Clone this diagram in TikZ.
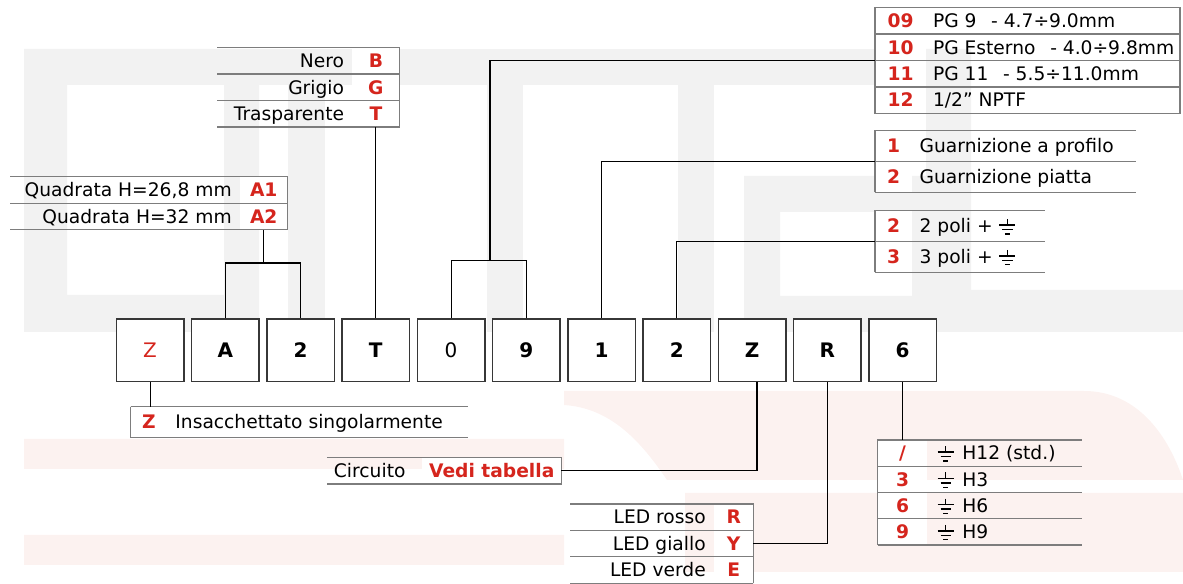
\documentclass[tikz,border=0pt]{standalone}
\usepackage{fontspec}
\setmainfont{DejaVu Sans}
\usetikzlibrary{positioning}

\definecolor{ditelred}{RGB}{213,37,29}
\definecolor{linegray}{RGB}{125,125,125}
\definecolor{boxgray}{RGB}{55,55,55}
\definecolor{markgray}{RGB}{242,242,242}
\definecolor{markpink}{RGB}{252,242,240}

\newcommand{\earth}{\tikz[baseline=0pt,x=1pt,y=1pt,line width=1.05pt]{\draw (0,10.4)--(0,5.8) (-6,5.8)--(6,5.8) (-3.9,2.5)--(3.9,2.5) (-1.9,-0.8)--(1.9,-0.8);}}

\begin{document}
\begin{tikzpicture}[x=0.75pt,y=-0.75pt,
    codebox/.style={draw=boxgray,fill=white,line width=1.1pt,minimum width=50.6pt,
      minimum height=46.8pt,inner sep=0pt,anchor=north west,
      font=\fontsize{15}{18}\selectfont\bfseries},
    keycell/.style={fill=white,inner sep=0pt,outer sep=0pt,anchor=north west,
      text=ditelred,text height=10.2pt,text depth=0pt,
      font=\fontsize{14}{16}\selectfont\bfseries},
    txt/.style={inner sep=0pt,text height=10.2pt,text depth=0pt,
      font=\fontsize{14}{16}\selectfont},
    tabline/.style={draw=linegray,line width=1pt},
    leader/.style={draw=black,line width=0.85pt}]
  \useasboundingbox (0,0) rectangle (1183,584);

  % watermark
  \fill[markgray,even odd rule] (24,49) rectangle (259,332) (67,85) rectangle (224,295);
  \fill[markgray] (259,49) rectangle (926,85);
  \fill[markgray] (288,85) rectangle (325,332);
  \fill[markgray] (487,85) rectangle (523,332);
  \fill[markgray] (678,85) rectangle (714,332);
  \fill[markgray,even odd rule] (744,176) rectangle (926,332) (780,212) rectangle (912,296);
  \fill[markgray] (926,49) rectangle (971,332) (971,290) rectangle (1183,332);
  \fill[markpink] (24,439) rectangle (564,469) (24,535) rectangle (564,565)
    (685,493) rectangle (1183,572);
  \fill[markpink] (564,391) -- (1084,391) .. controls (1140,391) and (1170,440) .. (1183,480)
    -- (667,480) .. controls (640,440) and (610,408) .. (564,405) -- cycle;

  % code boxes
  \node[codebox,text=ditelred,font=\fontsize{15}{18}\selectfont] (cpack) at (115.6,318.3) {Z};
  \node[codebox] (cshape) at (190.85,318.3) {A};
  \node[codebox] (csize) at (266.1,318.3) {2};
  \node[codebox] (ccolour) at (341.35,318.3) {T};
  \node[codebox,font=\fontsize{15}{18}\selectfont] (cgland) at (416.6,318.3) {0};
  \node[codebox] (cglandb) at (491.85,318.3) {9};
  \node[codebox] (cseal) at (567.1,318.3) {1};
  \node[codebox] (cpoles) at (642.35,318.3) {2};
  \node[codebox] (ccircuit) at (717.6,318.3) {Z};
  \node[codebox] (cled) at (792.85,318.3) {R};
  \node[codebox] (cearth) at (868.1,318.3) {6};

  % colour
  \node[keycell,minimum width=35.4pt,minimum height=19.8pt] (black) at (352.3,47.7) {B};
  \node[keycell,minimum width=35.4pt,minimum height=19.8pt,below=0pt of black] (grey) {G};
  \node[keycell,minimum width=35.4pt,minimum height=19.8pt,below=0pt of grey] (clear) {T};
  \node[txt,left=6pt of black] (tblack) {Nero};
  \node[txt,left=6pt of grey] (tgrey) {Grigio};
  \node[txt,left=6pt of clear] (tclear) {Trasparente};
  \draw[tabline] (clear.south east) -- (black.north east) -- ++(-182.5,0)
    (black.south east) -- ++(-182.5,0) (grey.south east) -- ++(-182.5,0)
    (clear.south east) -- ++(-182.5,0);
  \draw[leader] (clear.south) -- (clear.south |- ccolour.north);

  % height
  \node[keycell,minimum width=35.6pt,minimum height=19.9pt] (hlow) at (240,176.7) {A1};
  \node[keycell,minimum width=35.6pt,minimum height=19.9pt,below=0pt of hlow] (hhigh) {A2};
  \node[txt,left=6pt of hlow] (thlow) {Quadrata H=26,8 mm};
  \node[txt,left=6pt of hhigh] (thhigh) {Quadrata H=32 mm};
  \draw[tabline] (hhigh.south east) -- (hlow.north east) -- ++(-277.8,0)
    (hlow.south east) -- ++(-277.8,0) (hhigh.south east) -- ++(-277.8,0);
  \draw[leader] (hhigh.south) -- ++(0,33.3);
  \draw[leader] (cshape.north) -- ++(0,-55.3) -| (csize.north);

  % cable gland
  \node[keycell,minimum width=38.3pt,minimum height=19.8pt] (g09) at (875,7.7) {09};
  \node[keycell,minimum width=38.3pt,minimum height=19.8pt,below=0pt of g09] (g10) {10};
  \node[keycell,minimum width=38.3pt,minimum height=19.8pt,below=0pt of g10] (g11) {11};
  \node[keycell,minimum width=38.3pt,minimum height=19.8pt,below=0pt of g11] (g12) {12};
  \node[txt,right=5pt of g09] (tg09) {PG 9\hspace{11pt}- 4.7÷9.0mm};
  \node[txt,right=5pt of g10] (tg10) {PG Esterno\hspace{11pt}- 4.0÷9.8mm};
  \node[txt,right=5pt of g11] (tg11) {PG 11\hspace{11pt}- 5.5÷11.0mm};
  \node[txt,right=5pt of g12] (tg12) {1/2” NPTF};
  \draw[tabline] (g09.north west) -- ++(305,0) |- (g12.south west) -- cycle
    (g09.south west) -- ++(305,0) (g10.south west) -- ++(305,0)
    (g11.south west) -- ++(305,0);
  \coordinate (glandjoin) at (490,260.7);
  \draw[leader] (cgland.north) |- (glandjoin) -| (cglandb.north);
  \draw[leader] (glandjoin) |- (g10.south west);

  % seal
  \node[keycell,minimum width=27.8pt,minimum height=23.1pt] (sprof) at (875,130.7) {1};
  \node[keycell,minimum width=27.8pt,minimum height=23.1pt,below=0pt of sprof] (sflat) {2};
  \node[txt,right=5.5pt of sprof] (tsprof) {Guarnizione a profilo};
  \node[txt,right=5.5pt of sflat] (tsflat) {Guarnizione piatta};
  \draw[tabline] (sflat.south west) -- (sprof.north west) -- ++(260.8,0)
    (sprof.south west) -- ++(260.8,0) (sflat.south west) -- ++(260.8,0);
  \draw[leader] (cseal.north) |- (sprof.south west);

  % poles
  \node[keycell,minimum width=27.8pt,minimum height=23.1pt] (p2) at (875,210.7) {2};
  \node[keycell,minimum width=27.8pt,minimum height=23.1pt,below=0pt of p2] (p3) {3};
  \node[txt,right=5.5pt of p2] (tp2) {2 poli + \earth};
  \node[txt,right=5.5pt of p3] (tp3) {3 poli + \earth};
  \draw[tabline] (p3.south west) -- (p2.north west) -- ++(170.4,0)
    (p2.south west) -- ++(170.4,0) (p3.south west) -- ++(170.4,0);
  \draw[leader] (cpoles.north) |- (p2.south west);

  % packing
  \node[keycell,minimum width=27.5pt,minimum height=23pt] (bag) at (130.5,406.7) {Z};
  \node[txt,right=6pt of bag] (tbag) {Insacchettato singolarmente};
  \draw[tabline] (bag.north west) -- ++(337.2,0)
    (bag.north west) -- (bag.south west) -- ++(337.2,0);
  \draw[leader] (cpack.south) -- (cpack.south |- bag.north);

  % circuit
  \node[keycell,minimum width=104.6pt,minimum height=19.7pt] (circ) at (422,457.7) {Vedi tabella};
  \node[txt,anchor=west] (tcirc) at (333.7,470.85) {Circuito};
  \draw[tabline] (circ.north east) ++(-234.6,0) -- (circ.north east)
    -- (circ.south east) -- ++(-234.6,0);
  \draw[leader] ([xshift=3.7pt]ccircuit.south) |- (circ.east);

  % led
  \node[keycell,minimum width=29.6pt,minimum height=19.8pt] (lred) at (714,504) {R};
  \node[keycell,minimum width=29.6pt,minimum height=19.8pt,below=0pt of lred] (lyellow) {Y};
  \node[keycell,minimum width=29.6pt,minimum height=19.8pt,below=0pt of lyellow] (lgreen) {E};
  \node[txt,left=6pt of lred] (tlred) {LED rosso};
  \node[txt,left=6pt of lyellow] (tlyellow) {LED giallo};
  \node[txt,left=6pt of lgreen] (tlgreen) {LED verde};
  \draw[tabline] (lgreen.south east) -- (lred.north east) -- ++(-183.5,0)
    (lred.south east) -- ++(-183.5,0) (lyellow.south east) -- ++(-183.5,0)
    (lgreen.south east) -- ++(-183.5,0);
  \draw[leader] (cled.south) |- (lyellow.east);

  % earth contact
  \node[keycell,minimum width=37.3pt,minimum height=19.7pt] (e12) at (877.7,440) {/};
  \node[keycell,minimum width=37.3pt,minimum height=19.7pt,below=0pt of e12] (e3) {3};
  \node[keycell,minimum width=37.3pt,minimum height=19.7pt,below=0pt of e3] (e6) {6};
  \node[keycell,minimum width=37.3pt,minimum height=19.7pt,below=0pt of e6] (e9) {9};
  \node[txt,right=7pt of e12] (te12) {\earth\hspace{6pt}H12 (std.)};
  \node[txt,right=7pt of e3] (te3) {\earth\hspace{6pt}H3};
  \node[txt,right=7pt of e6] (te6) {\earth\hspace{6pt}H6};
  \node[txt,right=7pt of e9] (te9) {\earth\hspace{6pt}H9};
  \draw[tabline] (e9.south west) -- (e12.north west) -- ++(204.2,0)
    (e12.south west) -- ++(204.2,0) (e3.south west) -- ++(204.2,0)
    (e6.south west) -- ++(204.2,0) (e9.south west) -- ++(204.2,0);
  \draw[leader] (cearth.south) -- (cearth.south |- e12.north);
\end{tikzpicture}
\end{document}
